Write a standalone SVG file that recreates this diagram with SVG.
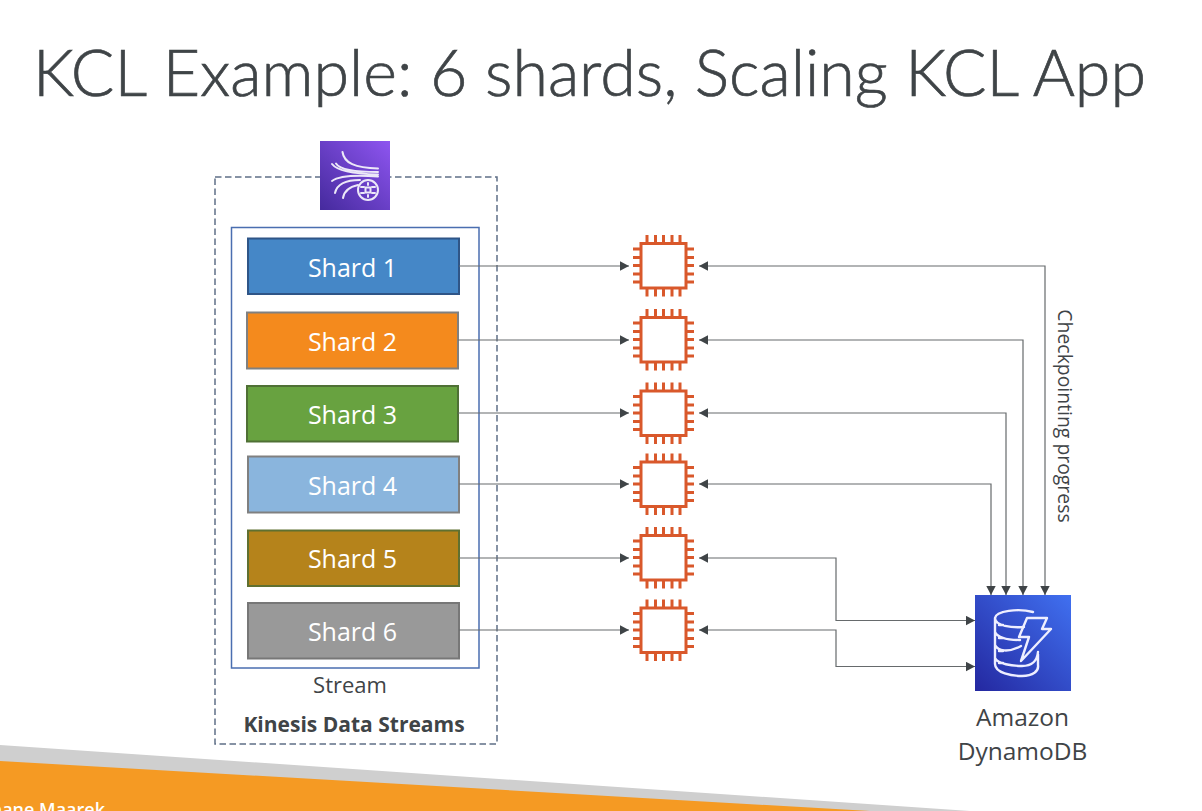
<svg xmlns="http://www.w3.org/2000/svg" width="1202" height="811" viewBox="0 0 1202 811">
<style>
text{font-family:"Open Sans","Noto Sans","Liberation Sans",sans-serif;fill:#3f4447}
.shard rect{stroke-width:2}
.shard text{fill:#fff;font-size:25px;text-anchor:middle}
.conn path{fill:none;stroke:#666a6c;stroke-width:1.200}
.one{marker-end:url(#arr)}
.two{marker-start:url(#arr);marker-end:url(#arr)}
.chip{fill:none;stroke:#d9582b;stroke-width:3}
.ic{fill:none;stroke:#ece8f8;stroke-width:2;stroke-linecap:round}
.db{fill:none;stroke:#eef;stroke-width:2.400;stroke-linecap:round;stroke-linejoin:round}
</style>
<defs>
<marker id="arr" markerUnits="userSpaceOnUse" markerWidth="10" markerHeight="10" refX="9" refY="4.700" orient="auto-start-reverse"><path d="M0 0L9 4.700L0 9.400Z" fill="#3f4447"/></marker>
<linearGradient id="kin" x1="0" y1="1" x2="1" y2="0"><stop offset="0" stop-color="#452a9d"/><stop offset="1" stop-color="#8e55f0"/></linearGradient>
<linearGradient id="dyn" x1="0" y1="1" x2="1" y2="0"><stop offset="0" stop-color="#2428a0"/><stop offset="1" stop-color="#4070f0"/></linearGradient>
<g id="cpu">
<rect class="chip" x="-22.500" y="-22" width="45" height="44.500"/>
<path class="chip" d="M-16.500-22v-8.500M-8-22v-8.500M0-22v-8.500M8.500-22v-8.500M16.500-22v-8.500M-16.500 22.500v8.500M-8 22.500v8.500M0 22.500v8.500M8.500 22.500v8.500M16.500 22.500v8.500M-22.500-16.500h-8M-22.500-8h-8M-22.500 0h-8M-22.500 8.500h-8M-22.500 16.500h-8M22.500-16.500h8M22.500-8h8M22.500 0h8M22.500 8.500h8M22.500 16.500h8"/>
</g>
</defs>
<rect width="1202" height="811" fill="#fff"/>
<g id="footer">
<polygon points="0,745 970,811 0,811" fill="#cfcfcf"/>
<polygon points="0,761 870,811 0,811" fill="#f59a23"/>
<text x="105" y="816" text-anchor="end" font-size="18" font-weight="600" style="fill:#fff">Stéphane Maarek</text>
</g>
<text id="title" x="33" y="96" font-size="66" style="font-family:Lato,'Open Sans',sans-serif;font-weight:300;fill:#3f4447;stroke:#3f4447;stroke-width:.7" textLength="1113" lengthAdjust="spacingAndGlyphs">KCL Example: 6 shards, Scaling KCL App</text>
<g id="kinesis-group">
<rect x="215" y="177" width="282" height="567" fill="none" stroke="#5f6f87" stroke-width="1.500" stroke-dasharray="6.500 3.500"/>
<text x="354" y="732" text-anchor="middle" font-size="21" font-weight="700">Kinesis Data Streams</text>
</g>
<g id="kinesis-icon">
<rect x="320" y="141" width="70" height="69" fill="url(#kin)"/>
<path class="ic" d="M342.500 152C344 163 355 168 378 168.500M336 163.500C340 170 360 172 378 172M332 164C338 172 358 174 378 174.500M378 176.500C358 175 340 175 332 181M335 193C337 184 345 180 360 180M343 198C344 191 349 187 358 185"/>
<circle class="ic" cx="368" cy="190" r="10"/>
<path class="ic" stroke-width="1.500" d="M361 187h3M372 187h3M361 193h3M372 193h3M368 183v2M368 195v2"/>
<rect class="ic" stroke-width="1.500" x="365.500" y="187.500" width="5" height="5"/>
</g>
<g id="stream">
<rect x="231.500" y="227.500" width="247.500" height="440.500" fill="#fff" stroke="#4a6eb0" stroke-width="1.500"/>
<text x="350" y="693" text-anchor="middle" font-size="22">Stream</text>
</g>
<g id="shard-1" class="shard"><rect x="248" y="238.500" width="211" height="55.500" fill="#4587c7" stroke="#2f5587"/><text x="352.500" y="277">Shard 1</text></g>
<g id="shard-2" class="shard"><rect x="247" y="312.500" width="211" height="56" fill="#f48a1d" stroke="#808080"/><text x="352.500" y="351">Shard 2</text></g>
<g id="shard-3" class="shard"><rect x="247" y="386" width="211" height="55.500" fill="#68a240" stroke="#4f7035"/><text x="352.500" y="424">Shard 3</text></g>
<g id="shard-4" class="shard"><rect x="248" y="456.500" width="211" height="56" fill="#8ab5dd" stroke="#808080"/><text x="352.500" y="495">Shard 4</text></g>
<g id="shard-5" class="shard"><rect x="248" y="530.500" width="211" height="55.500" fill="#b5831b" stroke="#5f7030"/><text x="352.500" y="568">Shard 5</text></g>
<g id="shard-6" class="shard"><rect x="248" y="603" width="211" height="55.500" fill="#999999" stroke="#777"/><text x="352.500" y="641">Shard 6</text></g>
<g id="connectors" class="conn">
<path class="one" d="M459 266H629"/>
<path class="one" d="M458 340H629"/>
<path class="one" d="M458 413H629"/>
<path class="one" d="M459 484H629"/>
<path class="one" d="M459 558H629"/>
<path class="one" d="M459 630H629"/>
<path class="two" d="M699 266H1045V595"/>
<path class="two" d="M699 340H1023V595"/>
<path class="two" d="M699 413H1006V595"/>
<path class="two" d="M699 484H991V595"/>
<path class="two" d="M699 558H836V620.500H975"/>
<path class="two" d="M699 630H836V666.500H975"/>
</g>
<use id="worker-1" href="#cpu" x="663.500" y="265.500"/>
<use id="worker-2" href="#cpu" x="663.500" y="339.500"/>
<use id="worker-3" href="#cpu" x="663.500" y="413"/>
<use id="worker-4" href="#cpu" x="663.500" y="484"/>
<use id="worker-5" href="#cpu" x="663.500" y="557.500"/>
<use id="worker-6" href="#cpu" x="663.500" y="630"/>
<g id="dynamodb">
<rect x="975" y="595" width="96" height="96" fill="url(#dyn)"/>
<path class="db" d="M1033 612C1018 608 996 611 995 618C995 626 1012 628 1024 627M995 618V664C995 673 1012 676 1022 676C1033 676 1039 671 1038 665V654M995 632C998 638 1008 640 1020 640M995 645C998 651 1008 653 1021 646M995 658C998 664 1012 666 1022 666C1031 666 1037 662 1038 652M999 625h4M999 638h4M999 651h4M999 663h4"/>
<path class="db" d="M1027 618H1047L1042 629H1051L1021 661L1029 637H1019Z"/>
</g>
<text x="1022.500" y="726" text-anchor="middle" font-size="24.500">Amazon</text>
<text x="1022.500" y="760" text-anchor="middle" font-size="24.500">DynamoDB</text>
<text transform="translate(1058 416) rotate(90)" text-anchor="middle" font-size="19.400">Checkpointing progress</text>
</svg>
